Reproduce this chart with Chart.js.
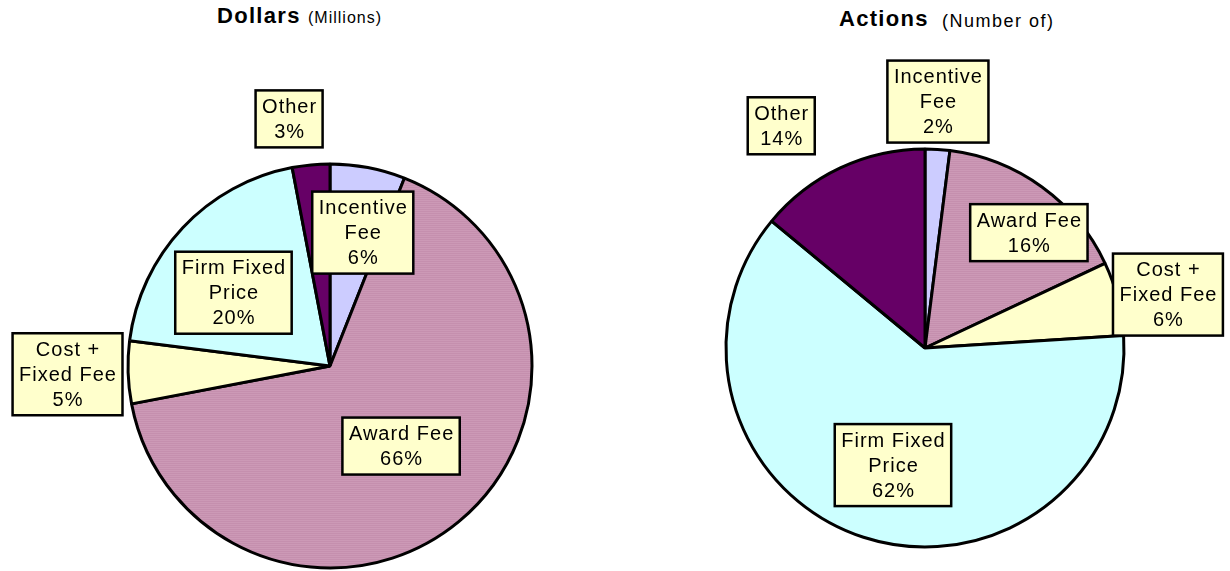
<!DOCTYPE html>
<html>
<head>
<meta charset="utf-8">
<script src="https://cdn.jsdelivr.net/npm/chart.js@4.4.1/dist/chart.umd.min.js"></script>
<style>
  body { margin: 0; background: #fff; font-family: "Liberation Sans", Arial, sans-serif; }
  #wrap { position: relative; width: 1230px; height: 571px; overflow: hidden; }
  canvas { position: absolute; top: 0; }
  .t { position: absolute; white-space: nowrap; color: #000; line-height: 1; }
  .big { font-size: 22px; font-weight: bold; letter-spacing: 1.3px; }
</style>
</head>
<body>
<div id="wrap">
  <div class="t big" style="left:217px; top:5px">Dollars</div>
  <div class="t" style="left:308px; top:10px; font-size:16px; letter-spacing:1px">(Millions)</div>
  <div class="t big" style="left:839px; top:8px">Actions</div>
  <div class="t" style="left:942px; top:12px; font-size:18px; letter-spacing:1.5px">(Number of)</div>
  <canvas id="dollars" width="615" height="571" style="left:0"></canvas>
  <canvas id="actions" width="615" height="571" style="left:615px"></canvas>
</div>
<script>
// contract types, in pie order starting at 12 o'clock
const categories = [
  ['Incentive', 'Fee'],
  ['Award Fee'],
  ['Cost +', 'Fixed Fee'],
  ['Firm Fixed', 'Price'],
  ['Other']
];
const dollarsPct = [6, 66, 5, 20, 3];
const actionsPct = [2, 16, 6, 62, 14];

// striped mauve fill like the original
const pc = document.createElement('canvas');
pc.width = 4; pc.height = 2;
const pctx = pc.getContext('2d');
pctx.fillStyle = '#CC99B6'; pctx.fillRect(0, 0, 4, 1);
pctx.fillStyle = '#C58FAE'; pctx.fillRect(0, 1, 4, 1);
const awardFill = pctx.createPattern(pc, 'repeat');

const sliceColors = ['#CCCCFF', awardFill, '#FFFFCC', '#CCFFFF', '#660066'];

// label box placement: fraction of radius + angle tweak (deg)
const dollarsPlace = [[0.68, 3], [0.53, -2], [1.30, 0], [0.60, -6], [1.24, -4]];
const actionsPlace = [[1.24, -0.6], [0.78, 6], [1.25, 2], [0.61, -2.7], [1.33, -7.7]];

function boxLabels(place) {
  return {
    id: 'boxLabels',
    afterDatasetsDraw(chart) {
      const ctx = chart.ctx;
      const meta = chart.getDatasetMeta(0);
      const vals = chart.data.datasets[0].data;
      const total = vals.reduce((a, b) => a + b, 0);
      ctx.save();
      ctx.font = '20px "Liberation Sans", Arial, sans-serif';
      ctx.letterSpacing = '1px';
      ctx.textAlign = 'center';
      ctx.textBaseline = 'middle';
      meta.data.forEach((arc, i) => {
        const p = arc.getProps(['x', 'y', 'startAngle', 'endAngle', 'outerRadius'], true);
        const mid = (p.startAngle + p.endAngle) / 2 + place[i][1] * Math.PI / 180;
        const cx = p.x + Math.cos(mid) * p.outerRadius * place[i][0];
        const cy = p.y + Math.sin(mid) * p.outerRadius * place[i][0];
        const lines = chart.data.labels[i].concat([Math.round(vals[i] / total * 100) + '%']);
        let w = 0;
        lines.forEach(t => { w = Math.max(w, ctx.measureText(t).width); });
        const bw = w + 12, bh = lines.length * 25 + 7;
        ctx.fillStyle = '#FFFFCC';
        ctx.fillRect(cx - bw / 2, cy - bh / 2, bw, bh);
        ctx.lineWidth = 2.5;
        ctx.strokeStyle = '#000';
        ctx.strokeRect(cx - bw / 2, cy - bh / 2, bw, bh);
        ctx.fillStyle = '#000';
        lines.forEach((t, j) => {
          ctx.fillText(t, cx + 0.5, cy + (j - (lines.length - 1) / 2) * 25 + 1);
        });
      });
      ctx.restore();
    }
  };
}

function makePie(id, values, pad, radius, place) {
  return new Chart(document.getElementById(id), {
    type: 'pie',
    data: {
      labels: categories,
      datasets: [{
        data: values,
        backgroundColor: sliceColors,
        borderColor: '#000',
        borderWidth: 3,
        radius: radius
      }]
    },
    options: {
      responsive: false,
      animation: false,
      events: [],
      layout: { padding: pad },
      plugins: { legend: { display: false }, tooltip: { enabled: false } }
    },
    plugins: [boxLabels(place)]
  });
}

makePie('dollars', dollarsPct, { left: 127, right: 82, top: 163, bottom: 2 }, 202, dollarsPlace);
makePie('actions', actionsPct, { left: 110, right: 105, top: 148, bottom: 23 }, 199, actionsPlace);
</script>
</body>
</html>
